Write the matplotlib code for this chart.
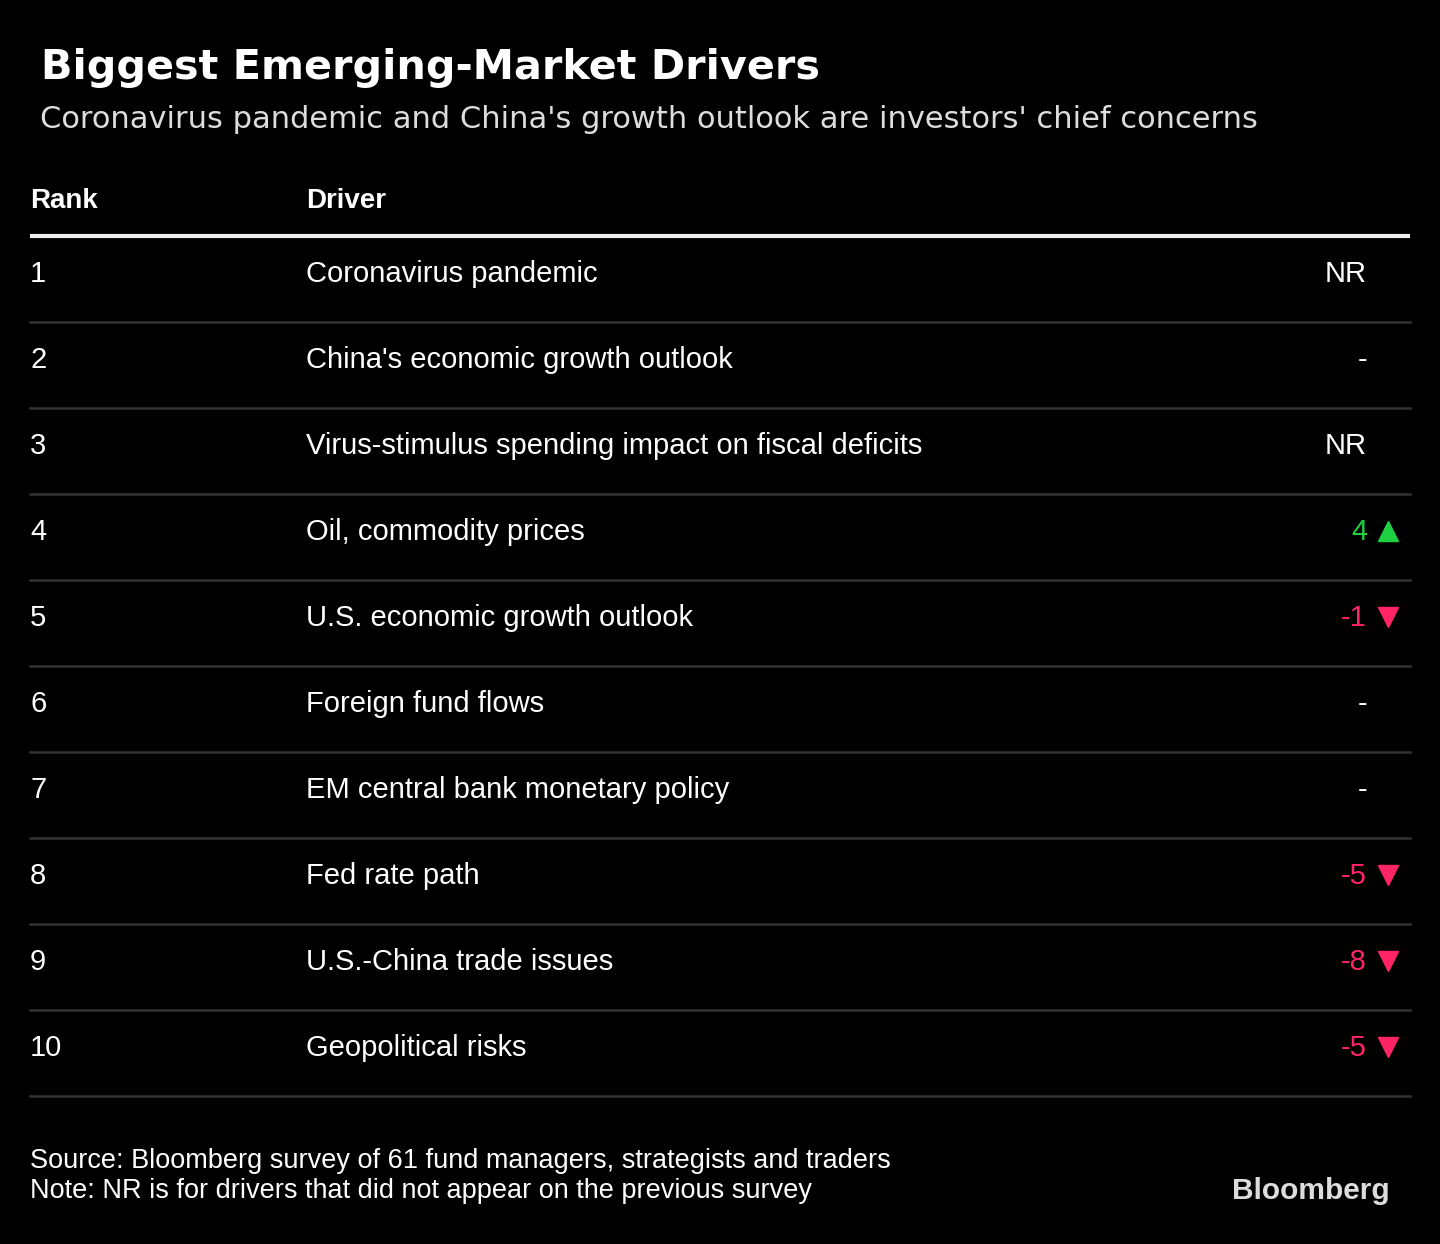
import matplotlib
matplotlib.use("Agg")
import matplotlib.pyplot as plt

# table data
ranks = [1, 2, 3, 4, 5, 6, 7, 8, 9, 10]
drivers = ["Coronavirus pandemic",
           "China's economic growth outlook",
           "Virus-stimulus spending impact on fiscal deficits",
           "Oil, commodity prices",
           "U.S. economic growth outlook",
           "Foreign fund flows",
           "EM central bank monetary policy",
           "Fed rate path",
           "U.S.-China trade issues",
           "Geopolitical risks"]
# change in rank vs previous survey; None = not ranked (NR), 0 = unchanged
changes = [None, 0, None, 4, -1, 0, 0, -5, -8, -5]

title = "Biggest Emerging-Market Drivers"
subtitle = "Coronavirus pandemic and China's growth outlook are investors' chief concerns"
source = "Source: Bloomberg survey of 61 fund managers, strategists and traders"
note = "Note: NR is for drivers that did not appear on the previous survey"

BG = "black"
GREEN = "#1fd142"
RED = "#ff2464"
SEP = "#333333"
BODY = ["Liberation Sans", "DejaVu Sans"]

fig = plt.figure(figsize=(14.4, 12.44), dpi=100, facecolor=BG)
ax = fig.add_axes([0, 0, 1, 1])
ax.set_facecolor(BG)
ax.set_xlim(0, 1440)
ax.set_ylim(1244, 0)
ax.axis("off")

ax.text(41, 68, title, color="white", fontsize=29.8, fontweight="bold",
        family="DejaVu Sans", va="center", ha="left")
ax.text(40, 119, subtitle, color="#dddddd", fontsize=22,
        family="DejaVu Sans", va="center", ha="left")

# header
ax.text(30, 201, "Rank", color="white", fontsize=20, fontweight="bold",
        family=BODY, va="center")
ax.text(306, 201, "Driver", color="white", fontsize=20, fontweight="bold",
        family=BODY, va="center")
ax.plot([30, 1410], [236, 236], color="#eeeeee", lw=3, solid_capstyle="butt")

y0, step = 274, 86
for i, (r, d, c) in enumerate(zip(ranks, drivers, changes)):
    y = y0 + step * i
    ax.text(30, y, str(r), color="white", fontsize=21, family=BODY, va="center")
    ax.text(306, y, d, color="white", fontsize=21, family=BODY, va="center")
    if c is None:
        ax.text(1367, y, "NR", color="white", fontsize=21, family=BODY,
                va="center", ha="right")
    elif c == 0:
        ax.text(1367, y, "-", color="white", fontsize=21, family=BODY,
                va="center", ha="right")
    else:
        col = GREEN if c > 0 else RED
        mk = "^" if c > 0 else "v"
        ax.text(1367, y, str(c), color=col, fontsize=21, family=BODY,
                va="center", ha="right")
        ax.plot([1388], [y - 1], marker=mk, color=col, markersize=15, ls="none")
    ax.plot([30, 1410], [y + 48, y + 48], color=SEP, lw=1.8)

# footer
ax.text(30, 1161, source, color="white", fontsize=19.5, family=BODY, va="center")
ax.text(30, 1191, note, color="white", fontsize=19.5, family=BODY, va="center")
ax.text(1390, 1191, "Bloomberg", color="#dddddd", fontsize=21.5, fontweight="bold",
        family=BODY, va="center", ha="right")

fig.savefig("out.png", dpi=100, facecolor=BG)
